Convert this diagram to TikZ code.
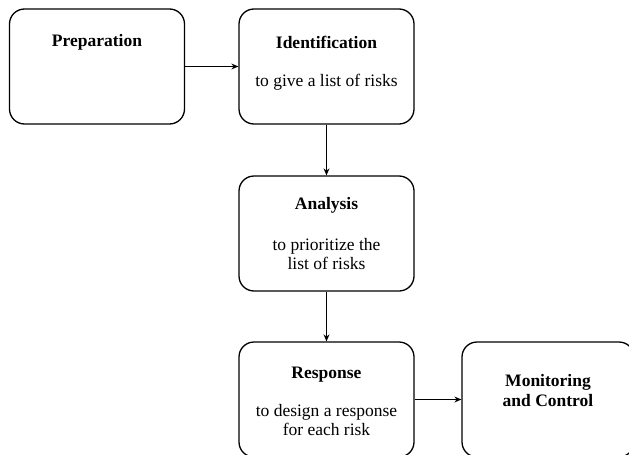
\documentclass[tikz,border=0pt]{standalone}
\usepackage{fontspec}
\setmainfont{Liberation Serif}
\usetikzlibrary{arrows.meta, positioning}
\tikzset{
    stage/.style={draw, rounded corners=15pt, line width=1.3pt, minimum width=175pt, minimum height=115pt},
    title/.style={font=\fontsize{17.5}{20}\selectfont\bfseries, align=center},
    body/.style={font=\fontsize{17.5}{19}\selectfont, align=center},
    flow/.style={line width=1.1pt, -{Stealth[length=7pt, width=6pt]}}
}

\begin{document}
\begin{tikzpicture}[x=1pt, y=-1pt]
    \useasboundingbox (0,0) rectangle (629,455);

    \node[stage] (prep) at (97,66.5) {};
    \node[stage] (ident) at (326.5,66.5) {};
    \node[stage] (anal) at (326.5,233.5) {};
    \node[stage] (resp) at (326.5,399.5) {};
    \node[stage, minimum width=172pt] (monit) at (548,399.5) {};

    \node[title] at ([yshift=-34pt]prep.north) {Preparation};
    \node[title] at ([yshift=-34pt]ident.north) {Identification};
    \node[body] at ([yshift=-16pt]ident.center) {to give a list of risks};
    \node[title] at ([yshift=-30pt]anal.north) {Analysis};
    \node[body] at ([yshift=-21pt]anal.center) {to prioritize the\\list of risks};
    \node[title] at ([yshift=-33pt]resp.north) {Response};
    \node[body] at ([yshift=-21pt]resp.center) {to design a response\\for each risk};
    \node[title] at ([yshift=9pt]monit.center) {Monitoring\\and Control};

    \draw[flow] (prep) -- (ident);
    \draw[flow] (ident) -- (anal);
    \draw[flow] (anal) -- (resp);
    \draw[flow] (resp) -- (monit);
\end{tikzpicture}
\end{document}
